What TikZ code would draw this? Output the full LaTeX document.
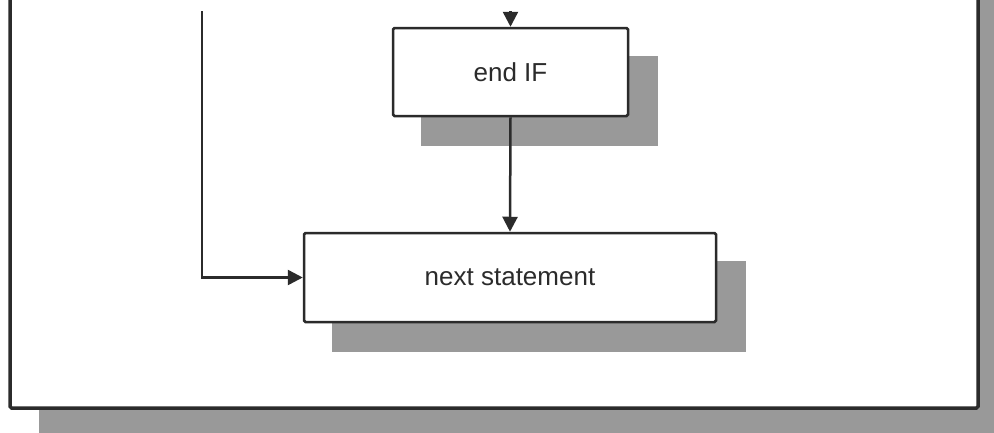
\documentclass[tikz,border=0pt]{standalone}
\usepackage{fontspec}
\setmainfont{Liberation Sans}
\usetikzlibrary{arrows.meta,backgrounds}
\definecolor{inkgray}{HTML}{2B2B2B}
\definecolor{shadowgray}{HTML}{999999}
\tikzset{
  flowbox/.style={draw=inkgray, line width=2.5pt, fill=white, rounded corners=1.5pt,
                  font=\fontsize{26}{30}\selectfont, text=inkgray, inner sep=0pt},
  boxshadow/.style={fill=shadowgray},
  flowline/.style={draw=inkgray, line width=2.5pt,
                   -{Triangle[length=15pt,width=15pt]}},
  framepen/.style={draw=inkgray, line width=3.5pt, fill=white, rounded corners=1.5pt}
}
\begin{document}
\begin{tikzpicture}[x=1pt,y=-1pt]
  \useasboundingbox (0,0) rectangle (994,432);
  \clip (0,11) rectangle (994,432);

  % process boxes
  \node[flowbox, minimum width=235pt, minimum height=88pt] (endif) at (510.5,72) {end IF};
  \node[flowbox, minimum width=412pt, minimum height=89pt] (next) at (510,277.5) {next statement};

  % surrounding frame and the drop shadows, kept behind the boxes
  \begin{pgfonlayer}{background}
    \coordinate (frameTL) at (10,-30);
    \coordinate (frameBR) at (978,408);
    \fill[boxshadow] ([shift={(29,29)}]frameTL) rectangle ([shift={(29,29)}]frameBR);
    \path[framepen] (frameTL) rectangle (frameBR);
    \fill[boxshadow] ([shift={(29,29)}]endif.north west) rectangle ([shift={(29,29)}]endif.south east);
    \fill[boxshadow] ([shift={(29,29)}]next.north west) rectangle ([shift={(29,29)}]next.south east);
  \end{pgfonlayer}

  % connectors
  \coordinate (inTop) at (510.5,0);
  \coordinate (loopTop) at (202,0);
  \draw[flowline] (inTop) -- (endif.north);
  \draw[flowline] (endif.south) -- (next.north);
  \draw[flowline] (loopTop) |- (next.west);
\end{tikzpicture}
\end{document}
